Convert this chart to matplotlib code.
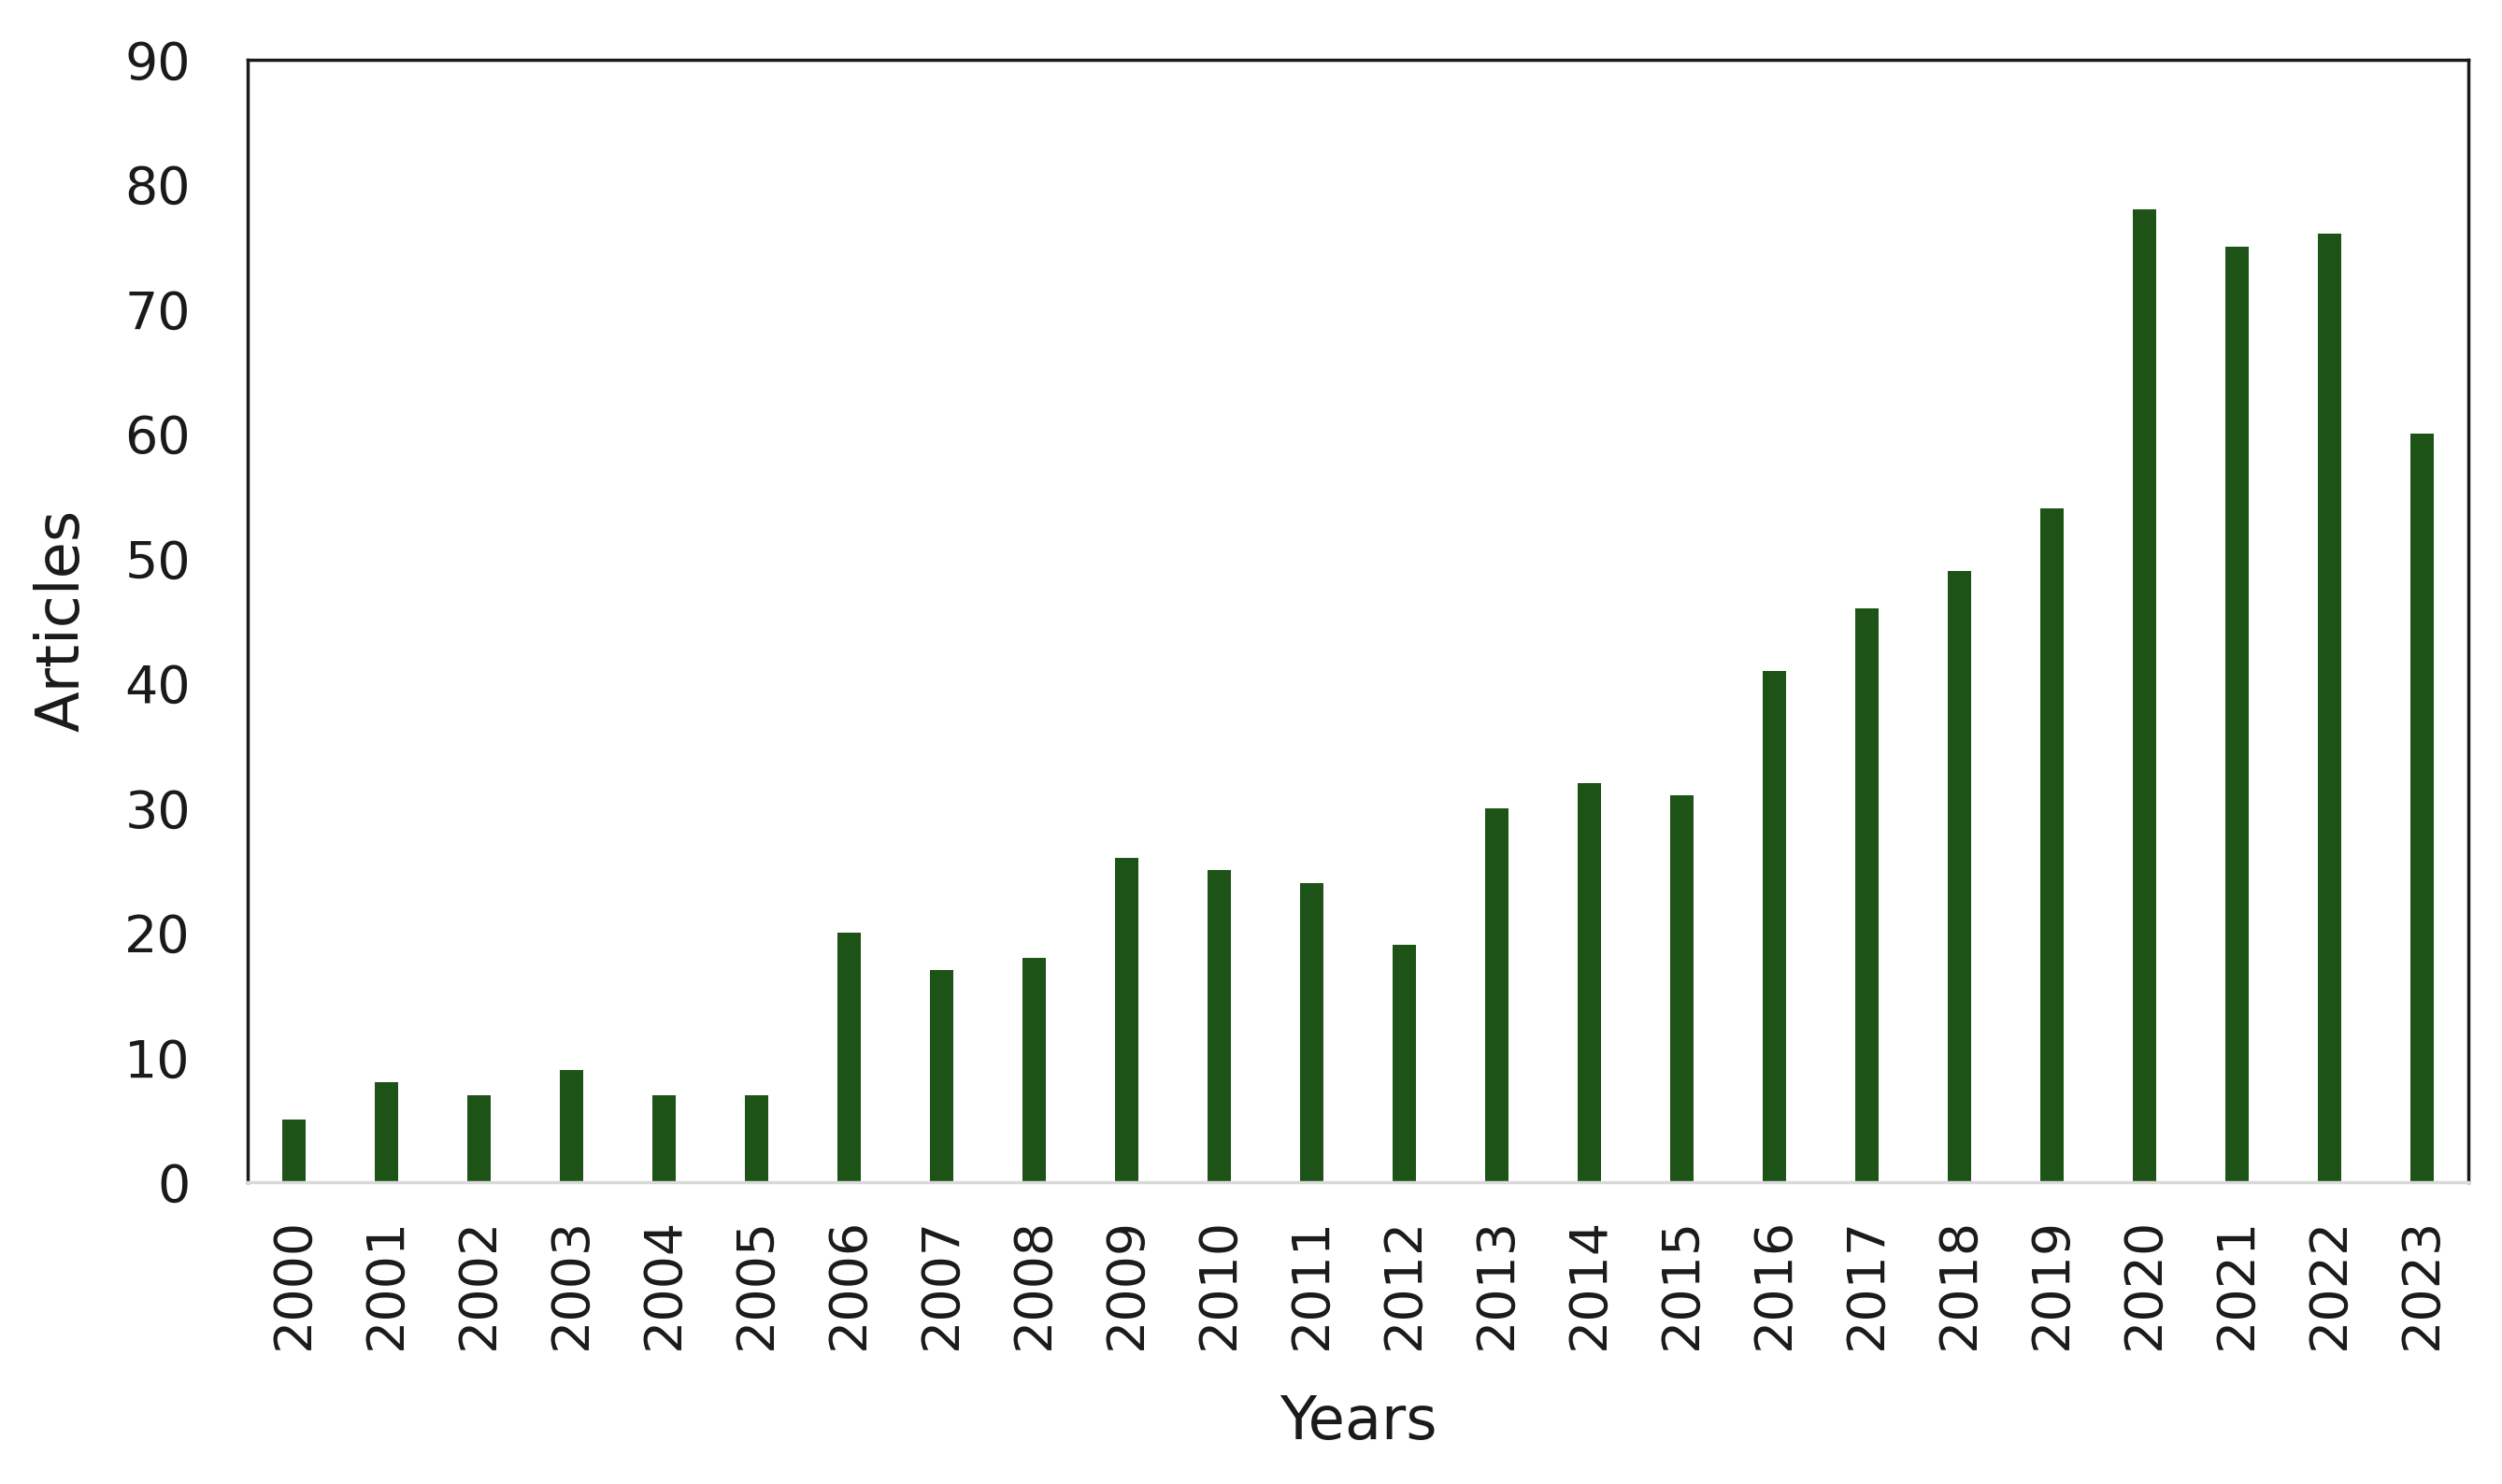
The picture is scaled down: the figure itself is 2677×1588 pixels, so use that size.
import matplotlib

matplotlib.use("Agg")
import matplotlib.pyplot as plt

# %%
years = [str(y) for y in range(2000, 2024)]
articles = [5, 8, 7, 9, 7, 7, 20, 17, 18, 26, 25, 24, 19, 30, 32, 31, 41, 46, 49, 54, 78, 75, 76, 60]
y_ticks = list(range(0, 91, 10))

plt.rcParams["font.family"] = ["DejaVu Sans"]

# %%
fig = plt.figure(figsize=(26.77, 15.88), dpi=100)
ax = fig.add_axes([0.099, 0.2034, 0.8876, 0.7566])

ax.bar(range(len(years)), articles, width=0.25, color="#1e5317")

ax.set_xlim(-0.5, len(years) - 0.5)
ax.set_ylim(0, 90)
ax.set_yticks(y_ticks)
ax.set_xticks(range(len(years)))
ax.set_xticklabels(years, rotation=90)

ax.tick_params(axis="both", length=0, labelsize=40, colors="#1a1a1a")
ax.tick_params(axis="x", pad=27)
ax.tick_params(axis="y", pad=44)

for side in ["left", "top", "right"]:
    ax.spines[side].set_color("#1a1a1a")
    ax.spines[side].set_linewidth(2.5)
ax.spines["bottom"].set_color("#d9d9d9")
ax.spines["bottom"].set_linewidth(2.5)

ax.set_xlabel("Years", fontsize=46, labelpad=34, color="#1a1a1a")
ax.set_ylabel("Articles", fontsize=46, labelpad=26, color="#1a1a1a")

fig.savefig("out.png", dpi=100)
